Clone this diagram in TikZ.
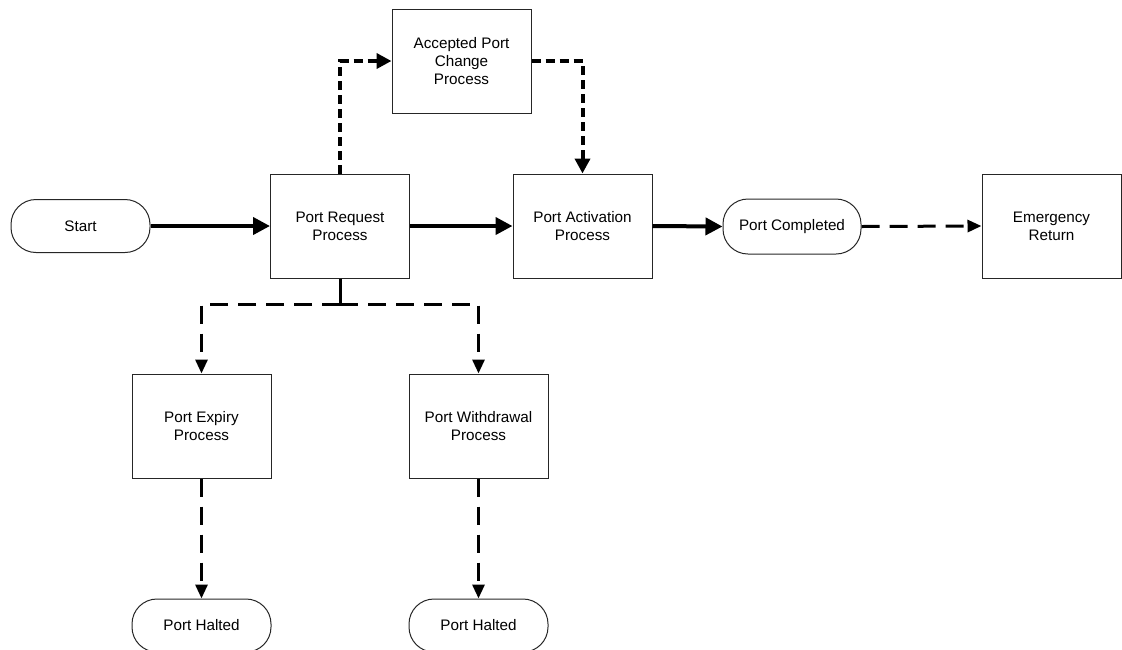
\documentclass[tikz,border=0pt]{standalone}
\usepackage{fontspec}
\setmainfont{Liberation Sans}
\usetikzlibrary{arrows.meta}
\begin{document}
\begin{tikzpicture}[x=1pt,y=-1pt,
  every node/.style={font=\fontsize{15.25}{18}\selectfont, align=center, inner sep=0pt},
  procbox/.style={draw=black!85, line width=1pt, minimum width=139pt, minimum height=104pt},
  termbox/.style={draw=black!85, line width=1pt, minimum width=139pt, minimum height=53pt, rounded corners=25pt},
  thickflow/.style={line width=4pt, -{Triangle[length=17pt,width=17pt]}},
  thickdash/.style={line width=4pt, dash pattern=on 9pt off 5pt, -{Triangle[length=15pt,width=15pt]}},
  thindash/.style={line width=3pt, dash pattern=on 18pt off 10pt, -{Triangle[length=14pt,width=12pt]}},
  thinstem/.style={line width=3pt}
]
\useasboundingbox (0,0) rectangle (1122,649);
\clip (0,0) rectangle (1122,649);

\node[termbox] (start) at (80.5,226) {Start};
\node[procbox] (req) at (340,226) {Port Request\\Process};
\node[procbox] (acc) at (461.5,61) {Accepted Port\\Change\\Process};
\node[procbox] (act) at (582.5,226) {Port Activation\\Process};
\node[termbox, minimum height=55pt, minimum width=138pt] (comp) at (792,226.5) {Port Completed};
\node[procbox] (emer) at (1051.5,226) {Emergency\\Return};
\node[procbox] (exp) at (201.5,426) {Port Expiry\\Process};
\node[procbox] (wd) at (478.5,426) {Port Withdrawal\\Process};
\node[termbox] (halt1) at (201.5,625.5) {Port Halted};
\node[termbox] (halt2) at (478.5,625.5) {Port Halted};

\coordinate (split) at (340,304);

\draw[thickflow] (start.east) -- (req.west);
\draw[thickflow] (req.east) -- (act.west);
\draw[thickflow] (act.east) -- (comp.west);
\draw[thindash] (comp.east) -- (emer.west);

\draw[thickdash] (req.north) |- (acc.west);
\draw[thickdash] (acc.east) -| (act.north);

\draw[thinstem] (req.south) -- (split);
\draw[thindash] (split) -| (exp.north);
\draw[thindash] (split) -| (wd.north);

\draw[thindash] (exp.south) -- (halt1.north);
\draw[thindash] (wd.south) -- (halt2.north);
\end{tikzpicture}
\end{document}
